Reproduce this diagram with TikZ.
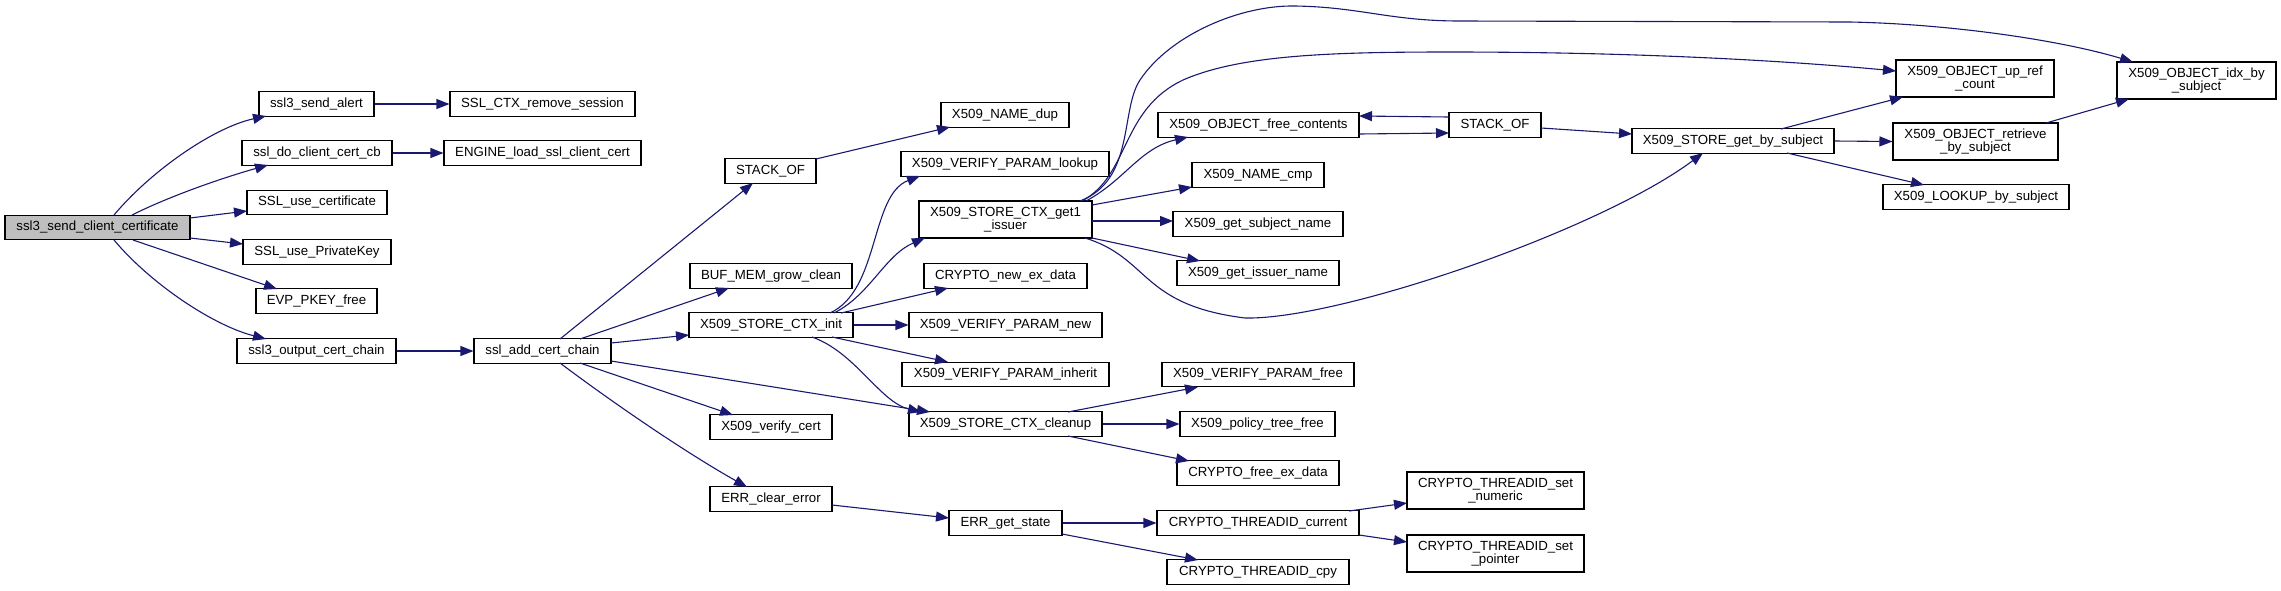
\documentclass[tikz,border=0pt]{standalone}
\usepackage{fontspec}
\setmainfont{Liberation Sans}
\usetikzlibrary{arrows.meta}
\definecolor{edgeblue}{HTML}{191970}
\definecolor{srcgray}{HTML}{BFBFBF}
\tikzset{
  box/.style={draw=black, line width=1.1pt, rectangle, inner sep=0pt, minimum height=24.5pt,
    font=\fontsize{13.25}{13.5}\selectfont, align=center, fill=white},
  tall/.style={minimum height=37pt},
  edge/.style={draw=edgeblue, line width=1.1pt, -{Triangle[length=13pt,width=10pt]}}
}
\begin{document}
\begin{tikzpicture}[x=1pt,y=-1pt]
\useasboundingbox (0,0) rectangle (2281,590);
% rank 0
\node[box, fill=srcgray, minimum width=185] (src) at (97.5,227.5) {ssl3\_send\_client\_certificate};
% rank 1
\node[box, minimum width=115] (alert) at (316.5,104) {ssl3\_send\_alert};
\node[box, minimum width=150] (docb) at (317,153) {ssl\_do\_client\_cert\_cb};
\node[box, minimum width=140] (usecert) at (317,202.5) {SSL\_use\_certificate};
\node[box, minimum width=148] (usekey) at (317,252) {SSL\_use\_PrivateKey};
\node[box, minimum width=121] (evp) at (316.5,301) {EVP\_PKEY\_free};
\node[box, minimum width=159] (outchain) at (316.5,351) {ssl3\_output\_cert\_chain};
% rank 2
\node[box, minimum width=185] (rmsess) at (542.5,104) {SSL\_CTX\_remove\_session};
\node[box, minimum width=197] (engine) at (542.5,153) {ENGINE\_load\_ssl\_client\_cert};
\node[box, minimum width=137] (addchain) at (542.5,351) {ssl\_add\_cert\_chain};
% rank 3
\node[box, minimum width=91] (stackL) at (770.5,171) {STACK\_OF};
\node[box, minimum width=162] (bufmem) at (771,276) {BUF\_MEM\_grow\_clean};
\node[box, minimum width=164] (init) at (771,325) {X509\_STORE\_CTX\_init};
\node[box, minimum width=122] (verify) at (771,427) {X509\_verify\_cert};
\node[box, minimum width=122] (errclr) at (771,499) {ERR\_clear\_error};
% rank 4
\node[box, minimum width=128] (namedup) at (1005,115) {X509\_NAME\_dup};
\node[box, minimum width=208] (lookup) at (1005,164) {X509\_VERIFY\_PARAM\_lookup};
\node[box, tall, minimum width=173] (get1) at (1005.5,219.5) {X509\_STORE\_CTX\_get1\\\_issuer};
\node[box, minimum width=163] (newex) at (1005.5,276) {CRYPTO\_new\_ex\_data};
\node[box, minimum width=193] (vpnew) at (1005.5,325) {X509\_VERIFY\_PARAM\_new};
\node[box, minimum width=207] (inherit) at (1005.5,374.5) {X509\_VERIFY\_PARAM\_inherit};
\node[box, minimum width=193] (cleanup) at (1005.5,424) {X509\_STORE\_CTX\_cleanup};
\node[box, minimum width=113] (getstate) at (1005.5,523) {ERR\_get\_state};
% rank 5
\node[box, minimum width=201] (freecont) at (1258.5,125) {X509\_OBJECT\_free\_contents};
\node[box, minimum width=132] (namecmp) at (1258,175) {X509\_NAME\_cmp};
\node[box, minimum width=170] (subj) at (1258,224) {X509\_get\_subject\_name};
\node[box, minimum width=162] (issuer) at (1258,273) {X509\_get\_issuer\_name};
\node[box, minimum width=192] (vpfree) at (1258,374.5) {X509\_VERIFY\_PARAM\_free};
\node[box, minimum width=155] (ptree) at (1257.5,424) {X509\_policy\_tree\_free};
\node[box, minimum width=162] (freeex) at (1258,473) {CRYPTO\_free\_ex\_data};
\node[box, minimum width=202] (tidcur) at (1258,523) {CRYPTO\_THREADID\_current};
\node[box, minimum width=182] (tidcpy) at (1258,572) {CRYPTO\_THREADID\_cpy};
% rank 6
\node[box, minimum width=92] (stackR) at (1495,125) {STACK\_OF};
\node[box, tall, minimum width=177] (setnum) at (1495.5,490.5) {CRYPTO\_THREADID\_set\\\_numeric};
\node[box, tall, minimum width=177] (setptr) at (1495.5,553.5) {CRYPTO\_THREADID\_set\\\_pointer};
% rank 7
\node[box, minimum width=202] (getby) at (1733,141) {X509\_STORE\_get\_by\_subject};
% rank 8
\node[box, tall, minimum width=158] (upref) at (1975,78.5) {X509\_OBJECT\_up\_ref\\\_count};
\node[box, tall, minimum width=165] (retr) at (1975.5,141.5) {X509\_OBJECT\_retrieve\\\_by\_subject};
\node[box, minimum width=186] (lookupbs) at (1976,197) {X509\_LOOKUP\_by\_subject};
% rank 9
\node[box, tall, minimum width=159] (idx) at (2196.5,80.5) {X509\_OBJECT\_idx\_by\\\_subject};

% edges from source
\draw[edge] ([shift={(16.5,-12.5)}]src.center) .. controls (150,172) and (212,128) .. ([shift={(-50.5,12)}]alert.center);
\draw[edge] ([shift={(34.5,-12.5)}]src.center) .. controls (170,196) and (222,178) .. ([shift={(-49,12)}]docb.center);
\draw[edge] ([shift={(92.5,-9.5)}]src.center) -- ([shift={(-70,8.5)}]usecert.center);
\draw[edge] ([shift={(92.5,10.5)}]src.center) -- ([shift={(-74,-8)}]usekey.center);
\draw[edge] ([shift={(35.5,12.5)}]src.center) -- ([shift={(-39.5,-12)}]evp.center);
\draw[edge] ([shift={(16.5,12.5)}]src.center) .. controls (150,283) and (212,325) .. ([shift={(-50.5,-12)}]outchain.center);
\draw[edge] (alert.east) -- (rmsess.west);
\draw[edge] (docb.east) -- (engine.west);
\draw[edge] (outchain.east) -- (addchain.west);
% from ssl_add_cert_chain
\draw[edge] ([shift={(17.5,-12)}]addchain.center) -- ([shift={(-17.5,12)}]stackL.center);
\draw[edge] ([shift={(37.5,-12)}]addchain.center) -- ([shift={(-42,12)}]bufmem.center);
\draw[edge] ([shift={(68.5,-8)}]addchain.center) -- ([shift={(-82,10)}]init.center);
\draw[edge] ([shift={(68.5,10)}]addchain.center) -- ([shift={(-75.5,-12)}]cleanup.center);
\draw[edge] ([shift={(37.5,12)}]addchain.center) -- ([shift={(-38,-12)}]verify.center);
\draw[edge] ([shift={(17.5,12)}]addchain.center) .. controls (620,408) and (690,455) .. ([shift={(-24,-12)}]errclr.center);
\draw[edge] ([shift={(45.5,-12)}]stackL.center) -- ([shift={(-55,12)}]namedup.center);
% from X509_STORE_CTX_init
\draw[edge] ([shift={(59,-12)}]init.center) .. controls (880,290) and (870,195) .. ([shift={(-85,12)}]lookup.center);
\draw[edge] ([shift={(63,-12)}]init.center) .. controls (870,295) and (885,255) .. ([shift={(-80.5,18.5)}]get1.center);
\draw[edge] ([shift={(70,-12)}]init.center) -- ([shift={(-57.5,12)}]newex.center);
\draw[edge] (init.east) -- (vpnew.west);
\draw[edge] ([shift={(61,12)}]init.center) -- ([shift={(-57.5,-12.5)}]inherit.center);
\draw[edge] ([shift={(41,12)}]init.center) .. controls (855,352) and (880,402) .. ([shift={(-84.5,-12)}]cleanup.center);
% from get1_issuer
\draw[edge] ([shift={(74.5,-18.5)}]get1.center) .. controls (1135,180) and (1120,110) .. (1140,80)
  .. controls (1170,35) and (1240,5) .. (1295,6) .. controls (1360,7) and (1390,21) .. (1460,21)
  -- (1850,22) .. controls (1950,24) and (2060,40) .. ([shift={(-63.5,-18.5)}]idx.center);
\draw[edge] ([shift={(76.5,-18.5)}]get1.center) .. controls (1130,175) and (1120,110) .. (1183,80)
  .. controls (1240,55) and (1330,52) .. (1450,52) .. controls (1650,52) and (1800,62) .. ([shift={(-79,-7.5)}]upref.center);
\draw[edge] ([shift={(80.5,-18.5)}]get1.center) .. controls (1125,180) and (1140,148) .. ([shift={(-70.5,12)}]freecont.center);
\draw[edge] ([shift={(86.5,-14.5)}]get1.center) -- ([shift={(-66,12)}]namecmp.center);
\draw[edge] ([shift={(86.5,1.5)}]get1.center) -- ([shift={(-85,-3)}]subj.center);
\draw[edge] ([shift={(86.5,18.5)}]get1.center) -- ([shift={(-58,-12)}]issuer.center);
\draw[edge] ([shift={(79.5,18.5)}]get1.center) .. controls (1150,258) and (1140,305) .. (1245,318)
  .. controls (1340,320) and (1600,230) .. ([shift={(-30,12)}]getby.center);
% STACK_OF right cluster
\draw[edge] ([shift={(100.5,9)}]freecont.center) -- ([shift={(-46,8)}]stackR.center);
\draw[edge] ([shift={(-46,-8)}]stackR.center) -- ([shift={(100.5,-9)}]freecont.center);
\draw[edge] ([shift={(46,3)}]stackR.center) -- ([shift={(-101,-7)}]getby.center);
\draw[edge] ([shift={(48,-12)}]getby.center) -- ([shift={(-72,18.5)}]upref.center);
\draw[edge] (getby.east) -- (retr.west);
\draw[edge] ([shift={(54,12)}]getby.center) -- ([shift={(-52,-12)}]lookupbs.center);
\draw[edge] ([shift={(70.5,-18.5)}]retr.center) -- ([shift={(-67.5,18.5)}]idx.center);
% cleanup
\draw[edge] ([shift={(62.5,-12)}]cleanup.center) -- ([shift={(-60,12.5)}]vpfree.center);
\draw[edge] (cleanup.east) -- (ptree.west);
\draw[edge] ([shift={(62.5,12)}]cleanup.center) -- ([shift={(-69,-12)}]freeex.center);
% errors
\draw[edge] ([shift={(61,6)}]errclr.center) -- ([shift={(-56.5,-5)}]getstate.center);
\draw[edge] (getstate.east) -- (tidcur.west);
\draw[edge] ([shift={(56.5,11)}]getstate.center) -- ([shift={(-60,-12)}]tidcpy.center);
\draw[edge] ([shift={(91,-12)}]tidcur.center) -- ([shift={(-88.5,12.5)}]setnum.center);
\draw[edge] ([shift={(101,12)}]tidcur.center) -- ([shift={(-88.5,-11.5)}]setptr.center);
\end{tikzpicture}
\end{document}
